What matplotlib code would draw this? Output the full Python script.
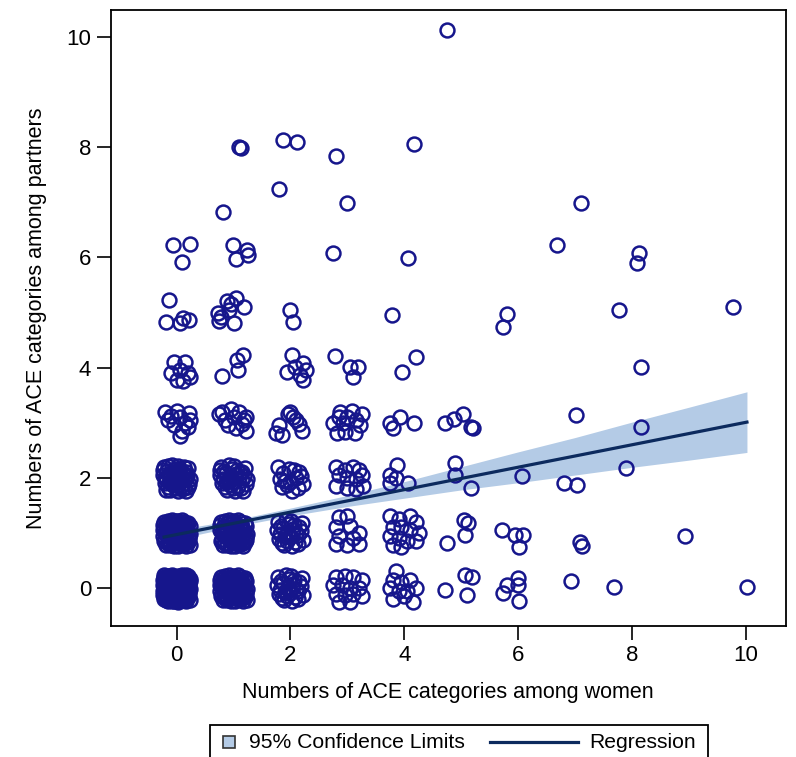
import matplotlib
matplotlib.use("Agg")
import matplotlib.pyplot as plt
from matplotlib.patches import Rectangle
from matplotlib.lines import Line2D

plt.rcParams['font.family'] = ['Liberation Sans', 'DejaVu Sans']
plt.rcParams['font.size'] = 13

# sparse points (already jittered)
women_x = [
    4.75, 1.87, 2.11, 1.09, 1.13, 2.80, 4.17, 1.80, 2.99, 0.81, 7.11,
    -0.07, 0.23, 0.09, 0.99, 1.23, 1.25, 1.04, 2.75, 4.07, 6.69, 8.13, 8.08,
    -0.14, -0.19, 0.05, 0.12, 0.22, 0.72, 0.78, 0.75, 0.88, 0.95, 1.05, 1.18, 1.00, 0.92,
    1.99, 2.04, 3.78, 5.81, 5.74, 7.78, 9.77,
    -0.05, 0.15, -0.10, 0.05, 0.20, 0.00, 0.12, 0.24,
    0.79, 1.06, 1.16, 1.08,
    2.02, 2.22, 1.94, 2.08, 2.17, 2.22, 2.28,
    2.78, 3.05, 3.19, 3.10, 3.96, 4.21, 8.15,
    -0.20, 0.00, 0.22, -0.15, 0.05, 0.15, -0.05, 0.20, 0.10, -0.10, 0.24, 0.05,
    0.75, 0.95, 1.10, 0.85, 1.00, 1.22, 1.15, 0.90, 1.05, 1.22, 0.80, 1.18,
    1.75, 1.80, 1.95, 2.05, 2.15, 2.20, 1.85, 2.00, 2.10,
    2.87, 3.08, 2.75, 2.93, 3.22, 2.81, 2.96, 3.13, 3.00, 3.25, 2.85, 3.15,
    3.75, 3.93, 4.17, 3.80,
    4.72, 4.88, 5.03, 5.18, 5.21,
    7.02, 8.15,
    2.80, 2.95, 3.10, 3.20, 2.85, 3.00, 3.15, 3.25, 2.80, 3.00, 3.15, 3.28,
    3.87, 3.75, 3.75, 3.85, 4.07,
    4.89, 4.89, 5.17,
    6.07, 6.81, 7.04, 7.89,
    2.85, 3.00, 2.80, 3.05, 3.20, 2.85, 3.10, 2.80, 3.00, 3.20,
    3.75, 3.90, 4.10, 4.20, 3.80, 3.95, 4.10, 4.25, 3.75, 3.90, 4.05, 4.20, 3.80, 3.95,
    4.75, 5.04, 5.12, 5.07,
    5.72, 5.95, 6.09, 6.02, 7.08, 7.13, 8.93,
    2.80, 2.95, 3.10, 3.25, 2.75, 2.90, 3.05, 3.20, 2.80, 2.95, 3.10, 3.25, 2.85, 3.05,
    3.85, 3.80, 3.95, 4.10, 3.75, 3.90, 4.05, 4.20, 3.80, 4.00, 4.15,
    4.72, 5.07, 5.19, 5.10,
    5.81, 5.74, 6.00, 6.00, 6.02, 6.92, 7.69, 10.02,
]
partner_y = [
    10.13, 8.13, 8.09, 8.00, 7.98, 7.84, 8.06, 7.24, 6.99, 6.82, 6.99,
    6.22, 6.24, 5.92, 6.22, 6.13, 6.04, 5.97, 6.08, 5.99, 6.22, 6.08, 5.90,
    5.23, 4.83, 4.80, 4.90, 4.87, 4.99, 4.92, 4.85, 5.20, 5.15, 5.27, 5.10, 4.80, 5.05,
    5.05, 4.83, 4.95, 4.97, 4.74, 5.04, 5.10,
    4.10, 4.10, 3.90, 3.95, 3.90, 3.78, 3.75, 3.82,
    3.84, 4.14, 4.23, 3.96,
    4.23, 4.08, 3.92, 4.01, 3.87, 3.78, 3.96,
    4.21, 4.01, 4.01, 3.83, 3.92, 4.19, 4.01,
    3.20, 3.22, 3.18, 3.05, 3.10, 3.00, 2.95, 2.92, 2.85, 3.12, 3.05, 2.75,
    3.15, 3.25, 3.20, 3.05, 3.10, 3.10, 2.98, 2.95, 2.90, 2.85, 3.20, 3.05,
    2.82, 2.95, 3.15, 3.10, 2.98, 2.85, 2.78, 3.20, 3.05,
    3.20, 3.21, 2.99, 2.99, 2.96, 2.81, 2.83, 2.81, 3.10, 3.15, 3.10, 3.05,
    2.99, 3.10, 2.99, 2.90,
    3.00, 3.07, 3.15, 2.92, 2.90,
    3.14, 2.92,
    2.20, 2.15, 2.20, 2.15, 2.05, 2.00, 1.98, 2.05, 1.85, 1.82, 1.80, 1.85,
    2.23, 2.05, 1.90, 2.00, 1.90,
    2.27, 2.05, 1.82,
    2.03, 1.91, 1.87, 2.18,
    1.28, 1.30, 1.10, 1.12, 1.00, 0.95, 0.90, 0.80, 0.78, 0.80,
    1.30, 1.25, 1.30, 1.20, 1.10, 1.10, 1.05, 1.00, 0.95, 0.90, 0.85, 0.85, 0.78, 0.75,
    0.82, 1.23, 1.18, 0.96,
    1.05, 0.96, 0.96, 0.74, 0.83, 0.76, 0.94,
    0.20, 0.22, 0.20, 0.15, 0.05, 0.05, 0.00, 0.00, -0.10, -0.12, -0.10, -0.15, -0.25, -0.25,
    0.30, 0.15, 0.10, 0.15, 0.00, -0.05, -0.05, 0.00, -0.20, -0.15, -0.25,
    -0.04, 0.24, 0.20, -0.12,
    0.05, -0.09, 0.18, 0.05, -0.24, 0.13, 0.02, 0.02,
]

# crowded cells: ACE count of women, ACE count of partners, number of couples (estimated)
cell_x = [0, 0, 0, 1, 1, 1, 2, 2, 2]
cell_y = [0, 1, 2, 0, 1, 2, 0, 1, 2]
cell_n = [110, 70, 45, 70, 55, 32, 26, 26, 15]

# regression line and 95% band
reg_x = [-0.22, 10.02]
reg_y = [0.925, 3.01]
band_x = [-0.22, 1.0, 2.0, 3.0, 4.0, 5.0, 6.0, 7.0, 8.0, 9.0, 10.02]
band_lo = [0.84, 1.11, 1.31, 1.48, 1.63, 1.78, 1.91, 2.05, 2.19, 2.32, 2.46]
band_hi = [1.02, 1.23, 1.45, 1.68, 1.93, 2.20, 2.47, 2.73, 3.01, 3.28, 3.56]


def halton(i, b):
    f, r = 1.0, 0.0
    while i > 0:
        f /= b
        r += f * (i % b)
        i //= b
    return r


# SAS-style jitter for the crowded cells (deterministic)
jx, jy = [], []
for cx, cy, n in zip(cell_x, cell_y, cell_n):
    for k in range(1, n + 1):
        jx.append(cx + (halton(k, 2) - 0.5) * 0.5)
        jy.append(cy + (halton(k, 3) - 0.5) * 0.5)

navy = '#16168c'
band_col = '#b4cbe6'
line_col = '#0c2a5e'

W, H = 796, 757
fig = plt.figure(figsize=(W / 100, H / 100), dpi=100)
ax = fig.add_axes([0.139, 0.173, 0.848, 0.814])

ax.fill_between(band_x, band_lo, band_hi, color=band_col, lw=0, zorder=1)
ax.plot(jx, jy, 'o', ms=10, mfc='none', mec=navy, mew=1.8, zorder=2)
ax.plot(women_x, partner_y, 'o', ms=10, mfc='none', mec=navy, mew=1.8, zorder=2)
ax.plot(reg_x, reg_y, color=line_col, lw=2.3, zorder=3)

ax.set_xlim(-1.16, 10.70)
ax.set_ylim(-0.69, 10.49)
ax.set_xticks([0, 2, 4, 6, 8, 10])
ax.set_yticks([0, 2, 4, 6, 8, 10])
ax.tick_params(direction='out', length=10, width=1.2, labelsize=16, pad=4)
for s in ax.spines.values():
    s.set_linewidth(1.3)

ax.set_xlabel('Numbers of ACE categories among women', fontsize=15.5, labelpad=11)
ax.set_ylabel('Numbers of ACE categories among partners', fontsize=15.5, labelpad=14)


# legend box at the bottom, laid out in figure pixels
def fx(p):
    return p / W


def fy(p):
    return 1 - p / H


fig.patches.append(Rectangle((fx(210), fy(765)), fx(708) - fx(210), fy(725) - fy(765),
                             transform=fig.transFigure, fill=False,
                             edgecolor='black', lw=1.3))
fig.patches.append(Rectangle((fx(223), fy(748)), fx(235) - fx(223), fy(736) - fy(748),
                             transform=fig.transFigure, facecolor=band_col,
                             edgecolor='#333333', lw=1.2))
fig.text(fx(249), fy(742), '95% Confidence Limits', fontsize=15.2,
         ha='left', va='center')
fig.lines.append(Line2D([fx(490), fx(578)], [fy(742), fy(742)],
                        transform=fig.transFigure, color=line_col, lw=2.3))
fig.text(fx(589), fy(742), 'Regression', fontsize=15.2, ha='left', va='center')

fig.savefig('out.png', dpi=100)
